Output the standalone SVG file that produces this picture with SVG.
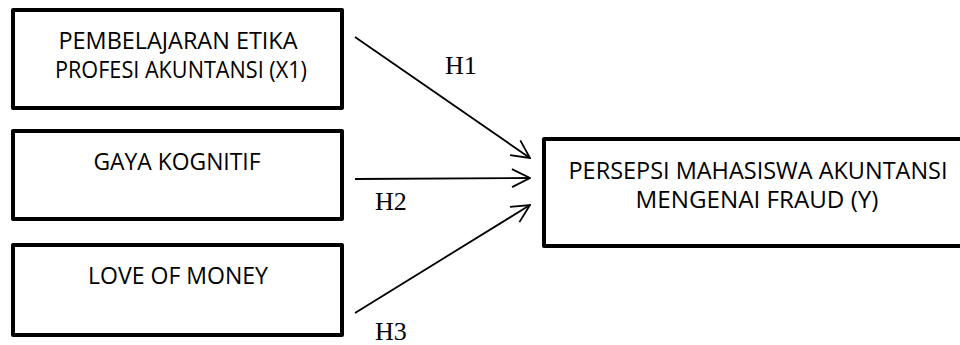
<svg xmlns="http://www.w3.org/2000/svg" width="960" height="345" viewBox="0 0 960 345">
<style>
.box{fill:#fff;stroke:#000;stroke-width:4;stroke-linejoin:round}
.t{font-family:"Open Sans","Liberation Sans",sans-serif;font-size:23px;fill:#000;text-anchor:middle}
.h{font-family:"Liberation Serif","Times New Roman",serif;font-size:26px;fill:#000}
.c{stroke:#000;stroke-width:1.8;fill:none;marker-end:url(#arr)}
</style>
<defs>
<marker id="arr" viewBox="0 0 20 20" refX="19" refY="10" markerWidth="20" markerHeight="20" markerUnits="userSpaceOnUse" orient="auto">
<path d="M1,1 L19,10 L1,19" fill="none" stroke="#000" stroke-width="1.8"/>
</marker>
</defs>
<rect width="960" height="345" fill="#fff"/>
<g id="x1">
<rect class="box" x="13" y="10" width="329" height="98"/>
<text class="t" x="178" y="49" textLength="239" lengthAdjust="spacingAndGlyphs">PEMBELAJARAN ETIKA</text>
<text class="t" x="181" y="78" textLength="252" lengthAdjust="spacingAndGlyphs">PROFESI AKUNTANSI (X1)</text>
</g>
<g id="x2">
<rect class="box" x="13" y="131" width="329" height="88"/>
<text class="t" x="177" y="170" textLength="167" lengthAdjust="spacingAndGlyphs">GAYA KOGNITIF</text>
</g>
<g id="x3">
<rect class="box" x="13" y="245" width="329" height="90"/>
<text class="t" x="178" y="284" textLength="180" lengthAdjust="spacingAndGlyphs">LOVE OF MONEY</text>
</g>
<g id="y">
<rect class="box" x="544" y="139" width="420" height="107"/>
<text class="t" x="758" y="179" textLength="379" lengthAdjust="spacingAndGlyphs">PERSEPSI MAHASISWA AKUNTANSI</text>
<text class="t" x="757" y="208" textLength="243" lengthAdjust="spacingAndGlyphs">MENGENAI FRAUD (Y)</text>
</g>
<g id="connectors">
<line class="c" x1="355" y1="37" x2="530" y2="158"/>
<line class="c" x1="355" y1="179" x2="530" y2="178"/>
<line class="c" x1="355" y1="313" x2="530" y2="205"/>
<text class="h" x="445" y="74">H1</text>
<text class="h" x="375" y="210">H2</text>
<text class="h" x="375" y="340">H3</text>
</g>
</svg>
